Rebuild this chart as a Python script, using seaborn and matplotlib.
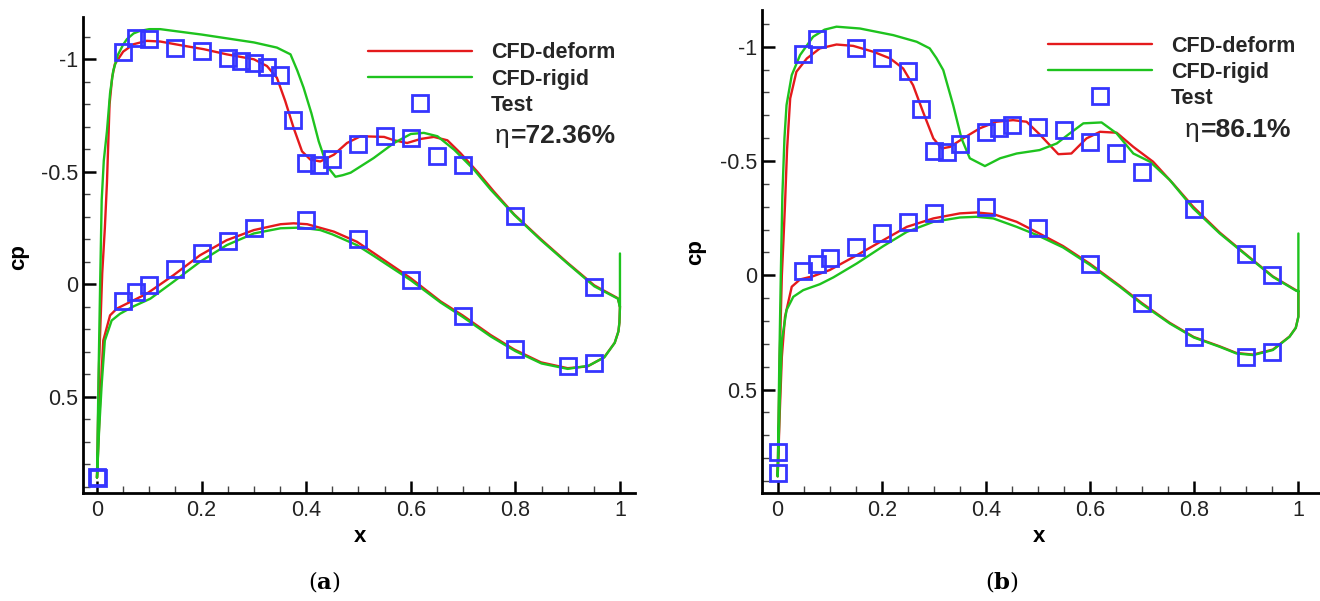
import matplotlib
matplotlib.use("Agg")
import matplotlib.pyplot as plt
import seaborn as sns
from matplotlib.ticker import MultipleLocator

# ---------------- data: panel (a), eta = 72.36% ----------------
a_deform_x = [1.0, 0.999, 0.997, 0.99, 0.97, 0.938, 0.9, 0.849, 0.798, 0.753, 0.699, 0.657, 0.6, 0.529,
              0.497, 0.453, 0.402, 0.376, 0.351, 0.3, 0.248, 0.197, 0.146, 0.095, 0.057, 0.038, 0.025,
              0.012, 0.006, 0.0,
              0.004, 0.01, 0.015, 0.019, 0.024, 0.029, 0.034, 0.05, 0.07, 0.095, 0.121, 0.159, 0.204,
              0.248, 0.3, 0.325, 0.344, 0.36, 0.376, 0.392, 0.408, 0.427, 0.453, 0.478, 0.504, 0.549,
              0.568, 0.593, 0.619, 0.644, 0.67, 0.695, 0.727, 0.759, 0.798, 0.849, 0.9, 0.951, 0.996, 1.0]
a_deform_cp = [0.10, 0.17, 0.21, 0.26, 0.324, 0.365, 0.373, 0.347, 0.29, 0.226, 0.138, 0.076, -0.027, -0.139,
               -0.189, -0.234, -0.267, -0.271, -0.267, -0.241, -0.196, -0.129, -0.04, 0.042, 0.086, 0.108, 0.138,
               0.25, 0.518, 0.86,
               0.35, -0.05, -0.25, -0.45, -0.80, -0.92, -0.978, -1.034, -1.067, -1.082, -1.079, -1.063, -1.045,
               -1.022, -1.0, -0.97, -0.918, -0.814, -0.695, -0.591, -0.554, -0.546, -0.576, -0.628, -0.658, -0.655,
               -0.64, -0.628, -0.646, -0.655, -0.64, -0.583, -0.501, -0.412, -0.31, -0.2, -0.095, 0.005, 0.062, 0.10]

a_rigid_x = [1.0, 1.0, 0.999, 0.997, 0.99, 0.97, 0.94, 0.9, 0.85, 0.8, 0.753, 0.7, 0.657, 0.6, 0.53, 0.497,
             0.45, 0.427, 0.389, 0.351, 0.3, 0.248, 0.197, 0.146, 0.102, 0.07, 0.044, 0.028, 0.015, 0.009,
             0.004, 0.0,
             0.003, 0.006, 0.009, 0.013, 0.019, 0.025, 0.031, 0.04, 0.05, 0.057, 0.07, 0.082, 0.1, 0.121,
             0.2, 0.3, 0.344, 0.37, 0.383, 0.395, 0.41, 0.424, 0.435, 0.443, 0.456, 0.47, 0.485, 0.504,
             0.529, 0.568, 0.6, 0.625, 0.651, 0.683, 0.721, 0.753, 0.798, 0.849, 0.9, 0.951, 0.996, 1.0]
a_rigid_cp = [-0.137, 0.10, 0.17, 0.21, 0.26, 0.325, 0.362, 0.376, 0.352, 0.297, 0.232, 0.146, 0.081, -0.018,
              -0.125, -0.174, -0.222, -0.241, -0.252, -0.249, -0.226, -0.174, -0.10, -0.011, 0.064, 0.098,
              0.131, 0.161, 0.25, 0.443, 0.65, 0.86,
              0.4, 0.0, -0.375, -0.55, -0.68, -0.85, -0.948, -1.02, -1.065, -1.089, -1.115, -1.126, -1.134,
              -1.134, -1.11, -1.075, -1.052, -1.022, -0.95, -0.874, -0.76, -0.635, -0.56, -0.516, -0.478,
              -0.485, -0.496, -0.524, -0.561, -0.628, -0.668, -0.673, -0.658, -0.598, -0.509, -0.42, -0.308,
              -0.196, -0.092, 0.009, 0.064, 0.10]

a_test_upper_x = [0.05, 0.075, 0.1, 0.15, 0.2, 0.25, 0.275, 0.3, 0.325, 0.35, 0.375, 0.4, 0.425, 0.45,
                  0.5, 0.55, 0.6, 0.65, 0.7, 0.8, 0.95]
a_test_upper_cp = [-1.034, -1.094, -1.091, -1.049, -1.037, -1.004, -0.992, -0.985, -0.967, -0.929, -0.731,
                   -0.54, -0.528, -0.558, -0.625, -0.658, -0.65, -0.571, -0.531, -0.305, 0.012]
a_test_lower_x = [0.0, 0.002, 0.05, 0.075, 0.1, 0.15, 0.2, 0.25, 0.3, 0.4, 0.5, 0.6, 0.7, 0.8, 0.9, 0.95]
a_test_lower_cp = [0.855, 0.862, 0.074, 0.034, 0.004, -0.067, -0.141, -0.193, -0.249, -0.286, -0.2, -0.021,
                   0.141, 0.287, 0.365, 0.35]

# ---------------- data: panel (b), eta = 86.1% ----------------
b_deform_x = [1.0, 1.0, 0.995, 0.983, 0.951, 0.913, 0.881, 0.849, 0.799, 0.753, 0.699, 0.657, 0.6, 0.548,
              0.5, 0.459, 0.414, 0.382, 0.35, 0.299, 0.248, 0.203, 0.152, 0.1, 0.068, 0.043, 0.027, 0.014,
              0.008, 0.004, 0.0,
              0.004, 0.008, 0.011, 0.014, 0.018, 0.024, 0.036, 0.056, 0.081, 0.113, 0.145, 0.184, 0.216,
              0.241, 0.26, 0.279, 0.299, 0.315, 0.331, 0.356, 0.388, 0.42, 0.452, 0.478, 0.503, 0.539,
              0.564, 0.593, 0.619, 0.651, 0.683, 0.721, 0.759, 0.798, 0.849, 0.9, 0.951, 0.996, 1.0]
b_deform_cp = [0.07, 0.18, 0.23, 0.268, 0.325, 0.347, 0.34, 0.311, 0.27, 0.208, 0.121, 0.046, -0.05, -0.128,
               -0.186, -0.234, -0.268, -0.275, -0.271, -0.249, -0.212, -0.154, -0.088, -0.023, 0.004, 0.018,
               0.05, 0.182, 0.357, 0.6, 0.88,
               0.35, 0.0, -0.15, -0.307, -0.55, -0.774, -0.891, -0.949, -0.993, -1.01, -1.004, -0.978, -0.949,
               -0.905, -0.832, -0.716, -0.599, -0.555, -0.562, -0.599, -0.643, -0.672, -0.679, -0.672, -0.617,
               -0.53, -0.533, -0.599, -0.628, -0.624, -0.562, -0.497, -0.402, -0.30, -0.187, -0.09, 0.005,
               0.066, 0.07]

b_rigid_x = [1.0, 1.0, 1.0, 0.995, 0.983, 0.951, 0.913, 0.881, 0.849, 0.799, 0.753, 0.699, 0.657, 0.6,
             0.548, 0.498, 0.459, 0.414, 0.382, 0.35, 0.299, 0.248, 0.203, 0.152, 0.107, 0.081, 0.049, 0.03,
             0.017, 0.008, 0.004, 0.0,
             0.003, 0.006, 0.009, 0.013, 0.017, 0.027, 0.043, 0.068, 0.09, 0.113, 0.158, 0.222, 0.267,
             0.292, 0.305, 0.318, 0.337, 0.353, 0.369, 0.398, 0.427, 0.459, 0.503, 0.536, 0.561, 0.587,
             0.622, 0.651, 0.683, 0.715, 0.753, 0.798, 0.849, 0.9, 0.951, 0.996, 1.0]
b_rigid_cp = [-0.183, 0.07, 0.182, 0.23, 0.269, 0.327, 0.349, 0.342, 0.313, 0.272, 0.211, 0.125, 0.05,
              -0.045, -0.122, -0.176, -0.212, -0.249, -0.256, -0.253, -0.234, -0.19, -0.128, -0.052, 0.009,
              0.039, 0.065, 0.094, 0.152, 0.284, 0.55, 0.88,
              0.4, 0.0, -0.35, -0.6, -0.745, -0.876, -0.964, -1.044, -1.075, -1.088, -1.08, -1.051, -1.022,
              -0.993, -0.95, -0.898, -0.745, -0.599, -0.512, -0.478, -0.512, -0.533, -0.548, -0.577, -0.621,
              -0.665, -0.669, -0.621, -0.533, -0.497, -0.417, -0.293, -0.183, -0.088, 0.007, 0.068, 0.07]

b_test_upper_x = [0.049, 0.076, 0.15, 0.2, 0.25, 0.275, 0.3, 0.325, 0.35, 0.4, 0.425, 0.45, 0.5, 0.55,
                  0.6, 0.65, 0.7, 0.8, 0.9, 0.95]
b_test_upper_cp = [-0.967, -1.032, -0.996, -0.952, -0.894, -0.727, -0.545, -0.54, -0.573, -0.625, -0.646,
                   -0.657, -0.647, -0.635, -0.584, -0.536, -0.453, -0.29, -0.094, 0.0]
b_test_lower_x = [0.0, 0.0, 0.049, 0.075, 0.1, 0.15, 0.2, 0.25, 0.3, 0.4, 0.5, 0.6, 0.7, 0.8, 0.9, 0.95]
b_test_lower_cp = [0.772, 0.867, -0.018, -0.049, -0.074, -0.122, -0.183, -0.232, -0.271, -0.3, -0.205,
                   -0.048, 0.123, 0.272, 0.357, 0.335]

series_labels = ["CFD-deform", "CFD-rigid", "Test"]
x_tick_values = [0, 0.2, 0.4, 0.6, 0.8, 1.0]
x_tick_labels = ["0", "0.2", "0.4", "0.6", "0.8", "1"]
y_tick_values = [-1.0, -0.5, 0.0, 0.5]
y_tick_labels = ["-1", "-0.5", "0", "0.5"]
eta_values = ["=72.36%", "=86.1%"]
captions = ["a", "b"]

RED = "#e41a1c"
GREEN = "#1ec31e"
BLUE = "#3535ff"

sns.set_theme(style="white")
plt.rcParams["font.family"] = ["Liberation Sans", "DejaVu Sans"]
plt.rcParams["mathtext.fontset"] = "custom"
plt.rcParams["mathtext.rm"] = "DejaVu Serif"
plt.rcParams["mathtext.bf"] = "DejaVu Serif:bold"

W, H = 1320, 601
fig = plt.figure(figsize=(W / 100, H / 100), dpi=100)
fig.patch.set_facecolor("white")


def fx(px):
    return px / W


def fy(py):
    return 1 - py / H


def panel(px_box, xlim, ylim, deform, rigid, test, eta, eta_px, leg_px, cp_px, x_px, cap, cap_px):
    l, t, r, b = px_box
    ax = fig.add_axes([fx(l), fy(b), (r - l) / W, (b - t) / H])
    ax.set_facecolor("white")
    sns.lineplot(x=deform[0], y=deform[1], sort=False, estimator=None, color=RED,
                 linewidth=1.7, ax=ax)
    sns.lineplot(x=rigid[0], y=rigid[1], sort=False, estimator=None, color=GREEN,
                 linewidth=1.7, ax=ax)
    sns.lineplot(x=test[0], y=test[1], sort=False, estimator=None, color=BLUE,
                 marker="s", linestyle="none", markersize=11.5, markerfacecolor="none",
                 markeredgecolor=BLUE, markeredgewidth=2.0, ax=ax)
    ax.set_xlim(*xlim)
    ax.set_ylim(*ylim)
    for s in ["top", "right"]:
        ax.spines[s].set_visible(False)
    for s in ["left", "bottom"]:
        ax.spines[s].set_color("black")
        ax.spines[s].set_linewidth(2.0)
    ax.set_xticks(x_tick_values, x_tick_labels)
    ax.set_yticks(y_tick_values, y_tick_labels)
    ax.xaxis.set_minor_locator(MultipleLocator(0.05))
    ax.yaxis.set_minor_locator(MultipleLocator(0.1))
    ax.tick_params(which="both", direction="in", left=True, bottom=True, top=False, right=False)
    ax.tick_params(which="major", length=9, width=1.8, color="black", labelsize=15.5,
                   labelcolor="#222222")
    ax.tick_params(which="minor", length=5, width=1.0, color="#444444")
    ax.tick_params(axis="x", which="major", pad=4.5)
    ax.tick_params(axis="y", which="major", pad=3.5)

    ax.set_ylabel("cp", fontsize=16, fontweight="bold", color="black")
    ax.set_xlabel("x", fontsize=16, fontweight="bold", color="black")
    ax.yaxis.label.set_verticalalignment("center")
    ax.xaxis.label.set_verticalalignment("center")
    ax.yaxis.set_label_coords((cp_px[0] - l) / (r - l), (b - cp_px[1]) / (b - t))
    ax.xaxis.set_label_coords((x_px[0] - l) / (r - l), (b - x_px[1]) / (b - t))

    handles = ax.get_lines()[:3]
    ax.legend(handles, series_labels, loc="upper left",
              bbox_to_anchor=((leg_px[0] - l) / (r - l), (b - leg_px[1]) / (b - t)),
              frameon=False, borderpad=0, borderaxespad=0, handlelength=4.85,
              handletextpad=0.85, labelspacing=0.24,
              prop={"weight": "bold", "size": 15.5})

    fig.text(fx(eta_px[0]), fy(eta_px[2]), "η", fontsize=19, ha="left", va="baseline")
    fig.text(fx(eta_px[1]), fy(eta_px[2]), eta, fontsize=19, fontweight="bold",
             ha="left", va="baseline")
    fig.text(fx(cap_px[0]), fy(cap_px[1]), "($\\mathbf{" + cap + "}$)", family="DejaVu Serif",
             fontsize=16.5, ha="center", va="center", color="black")
    return ax


panel((83.3, 17, 634.6, 493.3), (-0.0262, 1.028), (0.929, -1.188),
      (a_deform_x, a_deform_cp), (a_rigid_x, a_rigid_cp),
      (a_test_upper_x + a_test_lower_x, a_test_upper_cp + a_test_lower_cp),
      eta_values[0], (495, 511, 143), (368, 42.5), (19, 257), (360, 537), captions[0], (324, 582))

panel((761.7, 10, 1319, 493.3), (-0.0307, 1.0396), (0.954, -1.161),
      (b_deform_x, b_deform_cp), (b_rigid_x, b_rigid_cp),
      (b_test_upper_x + b_test_lower_x, b_test_upper_cp + b_test_lower_cp),
      eta_values[1], (1184.5, 1201, 137), (1048, 35.5), (696, 252), (1039, 537), captions[1], (1002, 582))

fig.savefig("out.png", dpi=100, facecolor="white")
